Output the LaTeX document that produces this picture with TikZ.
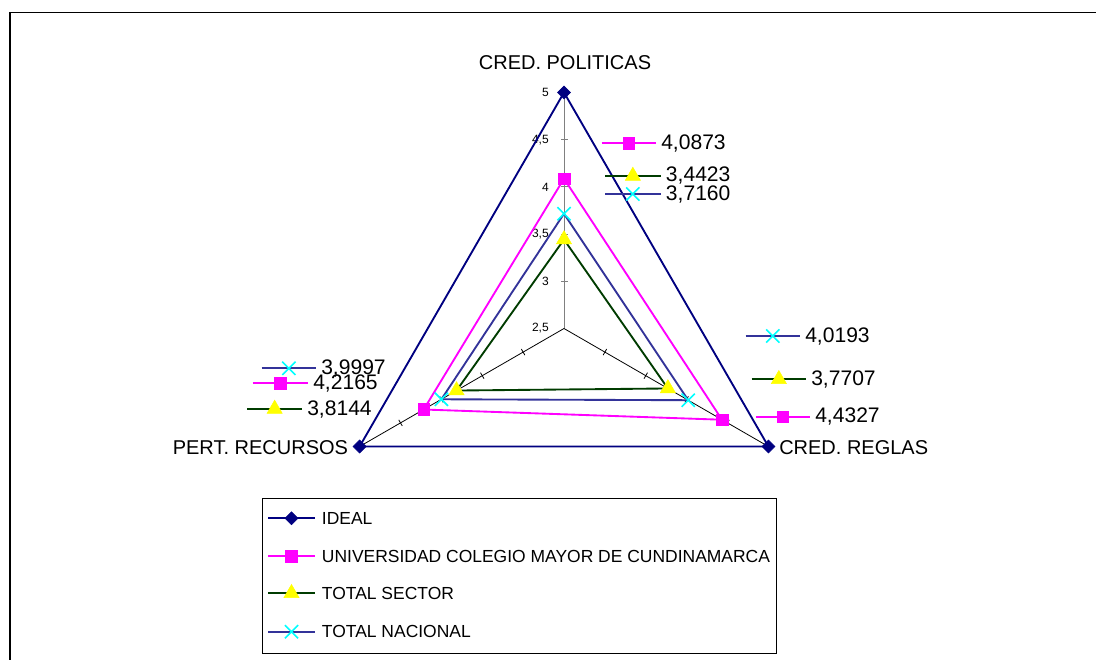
\documentclass[tikz,border=0pt]{standalone}
\usepackage{fontspec}
\setmainfont{Liberation Sans}
\usepackage{tikz}
\usetikzlibrary{plotmarks}
\definecolor{idealblue}{RGB}{0,0,128}
\definecolor{ucmagenta}{RGB}{255,0,255}
\definecolor{sectorgreen}{RGB}{0,60,0}
\definecolor{nacionblue}{RGB}{51,51,153}
\definecolor{markyellow}{RGB}{255,255,0}
\definecolor{markcyan}{RGB}{0,255,255}
\tikzset{font=\fontsize{13.1}{15}\selectfont}
\tikzset{
  ideal/.style={draw=idealblue, line width=1.4pt, mark=square*, mark size=3.45pt,
    mark options={rotate=45, fill=idealblue, draw=idealblue, line width=0.4pt}},
  ucmc/.style={draw=ucmagenta, line width=1.4pt, mark=square*, mark size=4.4pt,
    mark options={fill=ucmagenta, draw=ucmagenta, line width=0.4pt}},
  sector/.style={draw=sectorgreen, line width=1.4pt, mark=triangle*, mark size=6.6pt,
    mark options={fill=markyellow, draw=markyellow, line width=0.4pt}},
  nacion/.style={draw=nacionblue, line width=1.4pt, mark=x, mark size=7pt,
    mark options={draw=markcyan, line width=1.2pt}},
  axislabel/.style={font=\fontsize{15}{17}\selectfont, inner sep=0pt},
  vallabel/.style={font=\fontsize{15.8}{18}\selectfont, anchor=west, inner sep=0pt},
  ticklabel/.style={font=\fontsize{9}{10}\selectfont, anchor=east, inner sep=0pt}
}
% key line with its marker in the middle, then the value
\newcommand{\valkey}[6]{%
  \draw[#1] plot[mark indices={2}] coordinates {(#3,#5) ({(#3+#4)/2},#5) (#4,#5)};
  \node[vallabel] (#2) at (#4+5,#5) {#6};
}

\begin{document}
\begin{tikzpicture}[x=0.75pt,y=0.75pt]
  \useasboundingbox (0,0) rectangle (1096,660);
  \draw[line width=1.1pt] (10,-10) -- (10,647.5) -- (1110,647.5);

  \begin{scope}[shift={(564,331.5)}]
    % axes
    \foreach \a/\c in {90/gray,-30/black,210/black}{
      \begin{scope}[rotate=\a]
        \draw[\c, line width=0.6pt] (0,0) -- (236,0);
        \foreach \v in {3,3.5,4,4.5}
          \draw[\c, line width=0.6pt] ({(\v-2.5)*94.4},-3.5) -- ({(\v-2.5)*94.4},3.5);
      \end{scope}
    }
    \foreach \v/\t [count=\i] in {2.5/{2,5},3/3,3.5/{3,5},4/4,4.5/{4,5},5/5}
      \node[ticklabel] (tl\i) at (-15,{(\v-2.5)*94.4}) {\t};

    % series
    \draw[ideal] plot coordinates {(90:236) (-30:236) (210:236)} -- cycle;
    \draw[ucmc] plot coordinates {(90:{(4.0873-2.5)*94.4}) (-30:{(4.4327-2.5)*94.4})
      (210:{(4.2165-2.5)*94.4})} -- cycle;
    \draw[sector] plot coordinates {(90:{(3.4423-2.5)*94.4}) (-30:{(3.7707-2.5)*94.4})
      (210:{(3.8144-2.5)*94.4})} -- cycle;
    \draw[nacion] plot coordinates {(90:{(3.7160-2.5)*94.4}) (-30:{(4.0193-2.5)*94.4})
      (210:{(3.9997-2.5)*94.4})} -- cycle;
  \end{scope}

  \node[axislabel] (politicas) at (565,597.5) {CRED. POLITICAS};
  \node[axislabel, anchor=west] (reglas) at (779,212.3) {CRED. REGLAS};
  \node[axislabel, anchor=east] (recursos) at (348.3,212.7) {PERT. RECURSOS};

  % value labels
  \valkey{ucmc}{vp1}{601.7}{656}{516.7}{4,0873}
  \valkey{sector}{vp2}{605}{660.7}{484}{3,4423}
  \valkey{nacion}{vp3}{605}{660.7}{466}{3,7160}
  \valkey{nacion}{vr1}{745.7}{800}{324}{4,0193}
  \valkey{sector}{vr2}{751.7}{806}{280.7}{3,7707}
  \valkey{ucmc}{vr3}{755.7}{810}{243.3}{4,4327}
  \valkey{nacion}{vl1}{261.7}{316}{291.7}{3,9997}
  \valkey{ucmc}{vl2}{252.7}{308}{276.7}{4,2165}
  \valkey{sector}{vl3}{247.3}{302}{251}{3,8144}

  % legend
  \draw[line width=0.6pt] (262.7,7) rectangle (776,161.7);
  \foreach \s/\t/\y [count=\i] in {ideal/IDEAL/141.7,
      ucmc/UNIVERSIDAD COLEGIO MAYOR DE CUNDINAMARCA/104,
      sector/TOTAL SECTOR/66.7, nacion/TOTAL NACIONAL/28.3}{
    \draw[\s] plot[mark indices={2}] coordinates {(268,\y) (291.5,\y) (315,\y)};
    \node[anchor=west, inner sep=0pt] (leg\i) at (321.7,\y) {\t};
  }
\end{tikzpicture}
\end{document}
